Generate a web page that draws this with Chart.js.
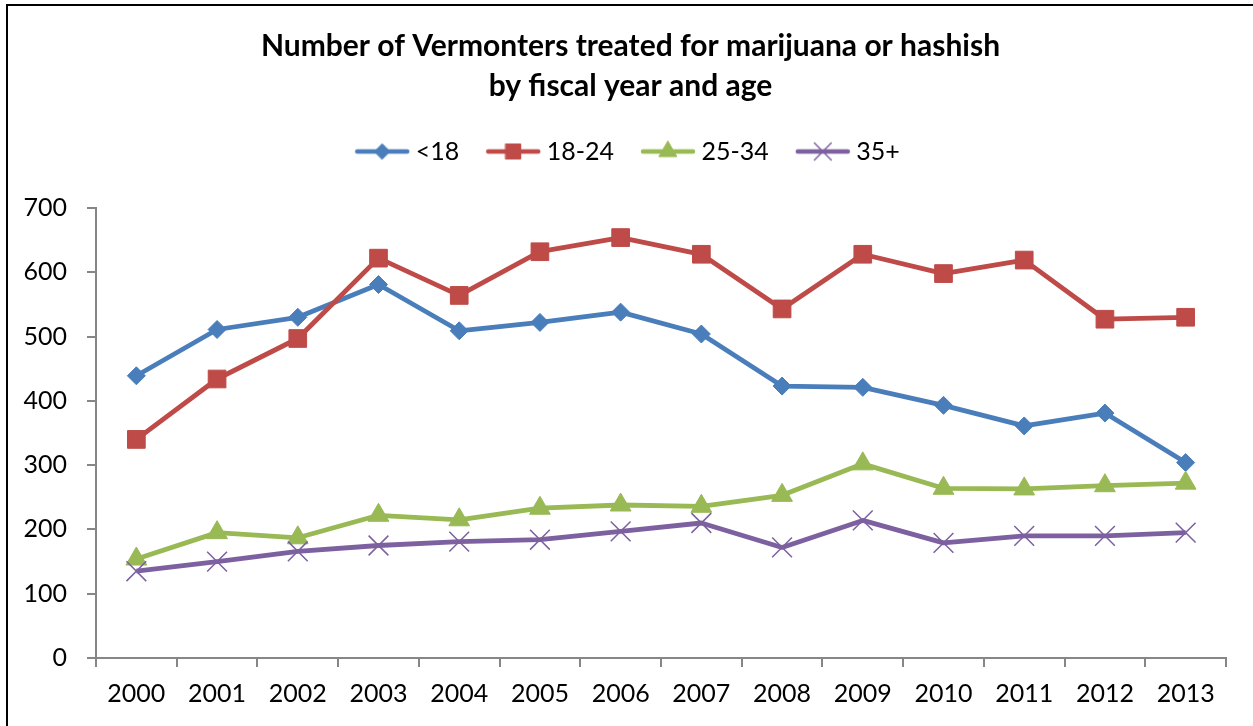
<!DOCTYPE html>
<html>
<head>
<meta charset="utf-8">
<script src="https://cdn.jsdelivr.net/npm/chart.js@4/dist/chart.umd.min.js"></script>
<style>
    html, body { margin: 0; padding: 0; background: #fff; overflow: hidden; }
    #frame { position: absolute; left: 6px; top: 4px; width: 1300px; height: 800px; border: 2px solid #000; }
    #wrap { position: absolute; left: 0; top: 0; width: 1253px; height: 726px; }
</style>
</head>
<body>
<div id="frame"></div>
<div id="wrap"><canvas id="chart"></canvas></div>
<script>
// values
const years = ['2000', '2001', '2002', '2003', '2004', '2005', '2006', '2007', '2008', '2009', '2010', '2011', '2012', '2013'];
const under18 = [439, 511, 530, 581, 509, 522, 538, 504, 423, 421, 393, 361, 381, 304];
const age18to24 = [340, 434, 497, 622, 564, 632, 654, 628, 543, 628, 598, 619, 527, 530];
const age25to34 = [154, 195, 187, 222, 215, 233, 238, 236, 253, 302, 264, 263, 268, 272];
const age35plus = [135, 150, 166, 175, 181, 184, 197, 210, 172, 214, 179, 190, 190, 195];
const seriesNames = ['<18', '18-24', '25-34', '35+'];
const yTicks = [0, 100, 200, 300, 400, 500, 600, 700];

const colors = ['#4A7EBB', '#BE4B48', '#98B954', '#7D60A0'];
const styles = ['rectRot', 'rect', 'triangle', 'crossRot'];
const radii = [9, 12.5, 12, 14];
const seriesData = [under18, age18to24, age25to34, age35plus];

// small canvas with line + marker, used as the legend symbol
function legendIcon(i) {
    const c = document.createElement('canvas');
    c.width = 56;
    c.height = 24;
    const g = c.getContext('2d');
    g.strokeStyle = colors[i];
    g.lineWidth = 4.5;
    g.lineCap = 'round';
    g.beginPath();
    g.moveTo(3, 12);
    g.lineTo(53, 12);
    g.stroke();
    g.fillStyle = colors[i];
    g.lineWidth = i === 3 ? 1.5 : 1;
    Chart.helpers.drawPoint(g, {pointStyle: styles[i], radius: radii[i] * 0.85, rotation: 0, borderWidth: g.lineWidth}, 28, 12);
    return c;
}

const datasets = seriesNames.map((name, i) => ({
    label: name,
    data: seriesData[i],
    borderColor: colors[i],
    backgroundColor: colors[i],
    borderWidth: 4.8,
    borderJoinStyle: 'round',
    pointStyle: styles[i],
    pointRadius: radii[i],
    pointHoverRadius: radii[i],
    pointBorderWidth: i === 3 ? 1.5 : 1,
    pointBorderColor: colors[i],
    pointBackgroundColor: colors[i],
    tension: 0,
    order: 3 - i
}));

const layoutTweaks = {
    id: 'layoutTweaks',
    beforeInit(chart) {
        // extra room under the legend
        const fit = chart.legend.fit;
        chart.legend.fit = function () {
            fit.bind(chart.legend)();
            this.height += 34;
        };
    },
    afterLayout(chart) {
        // let the y tick labels use the left padding instead of being clipped
        chart.scales.y.left = 0;
    }
};

new Chart(document.getElementById('chart'), {
    type: 'line',
    data: { labels: years, datasets: datasets },
    plugins: [layoutTweaks],
    options: {
        responsive: true,
        maintainAspectRatio: false,
        animation: false,
        layout: { padding: { left: 35, right: 27, top: 0, bottom: 5 } },
        plugins: {
            title: {
                display: true,
                text: ['Number of Vermonters treated for marijuana or hashish', 'by fiscal year and age'],
                color: '#000',
                font: { family: 'Lato', size: 30, weight: 'bold', lineHeight: '40px' },
                padding: { top: 26, bottom: 0 }
            },
            legend: {
                position: 'top',
                labels: {
                    color: '#000',
                    font: { family: 'Lato', size: 25 },
                    usePointStyle: true,
                    pointStyleWidth: 42,
                    padding: 33,
                    generateLabels: (chart) => chart.data.datasets.map((ds, i) => ({
                        text: ds.label,
                        pointStyle: legendIcon(i),
                        fillStyle: colors[i],
                        strokeStyle: colors[i],
                        lineWidth: 0,
                        fontColor: '#000',
                        datasetIndex: i
                    }))
                }
            },
            tooltip: { enabled: false }
        },
        scales: {
            x: {
                offset: true,
                grid: { offset: true, drawOnChartArea: false, drawTicks: true, tickLength: 9, color: '#868686', lineWidth: 2 },
                border: { color: '#868686', width: 2 },
                ticks: { color: '#000', font: { family: 'Lato', size: 25 }, padding: 12, maxRotation: 0, autoSkip: false }
            },
            y: {
                min: 0,
                max: 700,
                afterFit: (scale) => { scale.width = 61; },
                afterBuildTicks: (scale) => { scale.ticks = yTicks.map(v => ({ value: v })); },
                grid: { drawOnChartArea: false, drawTicks: true, tickLength: 9, color: '#868686', lineWidth: 2 },
                border: { color: '#868686', width: 2 },
                ticks: { color: '#000', font: { family: 'Lato', size: 25 }, padding: 20 }
            }
        }
    }
});
</script>
</body>
</html>
